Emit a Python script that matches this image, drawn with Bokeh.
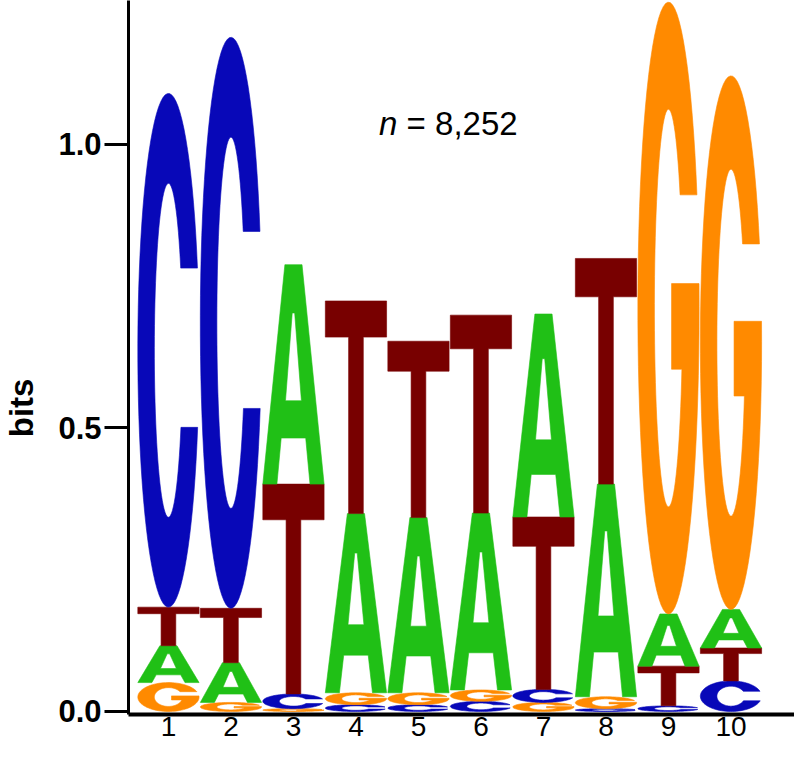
import numpy as np
from bokeh.plotting import figure
from bokeh.models import Range1d, FixedTicker, PrintfTickFormatter, Label, ColumnDataSource
from bokeh.embed import file_html
from bokeh.resources import INLINE

# ---------------- data (bits per nucleotide at each position) ----------------
positions = [1, 2, 3, 4, 5, 6, 7, 8, 9, 10]
tick_labels = ["1", "2", "3", "4", "5", "6", "7", "8", "9", "10"]
bits_A = [0.065, 0.070, 0.387, 0.316, 0.309, 0.312, 0.358, 0.375, 0.092, 0.068]
bits_C = [0.906, 1.007, 0.026, 0.012, 0.012, 0.018, 0.023, 0.005, 0.010, 0.054]
bits_G = [0.051, 0.016, 0.005, 0.021, 0.021, 0.020, 0.016, 0.021, 1.079, 0.941]
bits_T = [0.068, 0.096, 0.370, 0.375, 0.311, 0.349, 0.304, 0.398, 0.070, 0.058]
n_text = "= 8,252"

colors = {"A": "#20c016", "C": "#0808b8", "G": "#ff8a00", "T": "#780000"}

FONT = "Liberation Sans"

# ---------------- letter outlines in a unit box ----------------
def shape_T():
    x = [0, 1, 1, 0.62, 0.62, 0.38, 0.38, 0]
    y = [1, 1, 0.83, 0.83, 0, 0, 0.83, 0.83]
    return [(x, y)]

def shape_A():
    ox = [0, 0.36, 0.64, 1, 0.77, 0.70, 0.30, 0.23]
    oy = [0, 1, 1, 0, 0, 0.21, 0.21, 0]
    hx = [0.37, 0.63, 0.52, 0.48]
    hy = [0.38, 0.38, 0.78, 0.78]
    return [(ox, oy), (hx, hy)]

RX_O, RY_O = 0.5, 0.5
RX_I, RY_I = 0.23, 0.325

def _ell(rx, ry, a0, a1, n=80):
    t = np.linspace(a0, a1, n)
    return list(0.5 + rx * np.cos(t)), list(0.5 + ry * np.sin(t))

def shape_C():
    up, lo = 0.66, 0.35
    ao_u = np.arcsin((up - 0.5) / RY_O)
    ao_l = 2 * np.pi - np.arcsin((0.5 - lo) / RY_O)
    ai_u = np.arcsin((up - 0.5) / RY_I)
    ai_l = 2 * np.pi - np.arcsin((0.5 - lo) / RY_I)
    x1, y1 = _ell(RX_O, RY_O, ao_u, ao_l)
    x2, y2 = _ell(RX_I, RY_I, ai_l, ai_u)
    return [(x1 + x2, y1 + y2)]

def shape_G():
    up, bar_top, bar_bot, bar_left = 0.685, 0.54, 0.40, 0.55
    ao_u = np.arcsin((up - 0.5) / RY_O)
    ao_e = 2 * np.pi + np.arcsin((bar_top - 0.5) / RY_O)
    ai_b = 2 * np.pi - np.arcsin((0.5 - bar_bot) / RY_I)
    ai_u = np.arcsin((up - 0.5) / RY_I)
    x1, y1 = _ell(RX_O, RY_O, ao_u, ao_e)
    x2, y2 = _ell(RX_I, RY_I, ai_b, ai_u)
    xs = x1 + [bar_left, bar_left] + x2
    ys = y1 + [bar_top, bar_bot] + y2
    return [(xs, ys)]

SHAPES = {"A": shape_A(), "C": shape_C(), "G": shape_G(), "T": shape_T()}

# ---------------- build stacked letters ----------------
WIDTH = 0.98
table = {"A": bits_A, "C": bits_C, "G": bits_G, "T": bits_T}
xs_all, ys_all, fill = [], [], []
for i, pos in enumerate(positions):
    stack = sorted(table.keys(), key=lambda k: table[k][i])
    base = 0.0
    for letter in stack:
        h = table[letter][i]
        rings_x, rings_y = [], []
        for (ux, uy) in SHAPES[letter]:
            rings_x.append([pos + (u - 0.5) * WIDTH for u in ux])
            rings_y.append([base + v * h for v in uy])
        xs_all.append([rings_x])
        ys_all.append([rings_y])
        fill.append(colors[letter])
        base += h

src = ColumnDataSource(dict(xs=xs_all, ys=ys_all, color=fill))

# ---------------- figure ----------------
p = figure(width=794, height=745, output_backend="svg", toolbar_location=None,
           x_range=Range1d(0.361, 11.016), y_range=Range1d(-0.0053, 1.2539),
           min_border_left=127, min_border_right=0, min_border_top=0, min_border_bottom=31)
p.outline_line_color = None
p.xgrid.visible = False
p.ygrid.visible = False
p.background_fill_color = "white"

p.multi_polygons(xs="xs", ys="ys", fill_color="color", line_color="color",
                 line_width=0.6, source=src)

# y axis
p.yaxis.ticker = FixedTicker(ticks=[0.0, 0.5, 1.0])
p.yaxis.formatter = PrintfTickFormatter(format="%.1f")
p.yaxis.axis_line_width = 3
p.yaxis.major_tick_line_width = 3
p.yaxis.major_tick_out = 24
p.yaxis.major_tick_in = 0
p.yaxis.minor_tick_out = 0
p.yaxis.minor_tick_in = 0
p.yaxis.major_label_standoff = 3
p.yaxis.major_label_text_font = FONT
p.yaxis.major_label_text_font_size = "31px"
p.yaxis.major_label_text_font_style = "bold"
p.yaxis.major_label_text_color = "black"
p.yaxis.axis_label = "bits" + "\u00a0" * 11
p.yaxis.axis_label_text_font = FONT
p.yaxis.axis_label_text_font_size = "33px"
p.yaxis.axis_label_text_font_style = "bold"
p.yaxis.axis_label_text_color = "black"
p.yaxis.axis_label_standoff = 15

# x axis
p.xaxis.ticker = FixedTicker(ticks=positions)
p.xaxis.major_label_overrides = {pos: lab for pos, lab in zip(positions, tick_labels)}
p.xaxis.axis_line_width = 4
p.xaxis.major_tick_out = 0
p.xaxis.major_tick_in = 0
p.xaxis.minor_tick_out = 0
p.xaxis.minor_tick_in = 0
p.xaxis.major_label_standoff = 2
p.xaxis.major_label_text_font = FONT
p.xaxis.major_label_text_font_size = "28px"
p.xaxis.major_label_text_color = "black"

# n = 8,252
p.add_layout(Label(x=4.37, y=1.037, text="n", text_font=FONT, text_font_size="33px",
                   text_font_style="italic", text_align="left", text_baseline="alphabetic",
                   text_color="black"))
p.add_layout(Label(x=4.81, y=1.037, text=n_text, text_font=FONT, text_font_size="33px",
                   text_align="left", text_baseline="alphabetic", text_color="black"))

open("out.html", "w").write(file_html(p, INLINE))
